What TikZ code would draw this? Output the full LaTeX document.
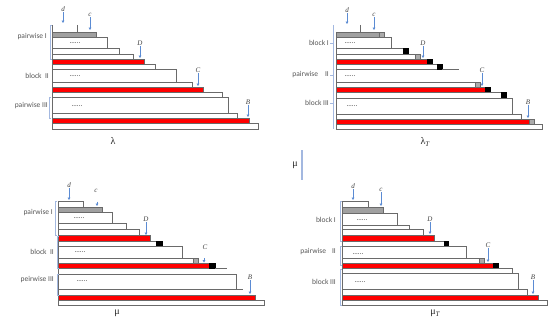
\documentclass[tikz,border=0pt]{standalone}
\usepackage{fontspec}
\setmainfont{Carlito}
\newfontfamily\mathserif{Liberation Serif}
\usetikzlibrary{arrows.meta}
\definecolor{edgegray}{HTML}{6A6A6A}
\definecolor{barred}{HTML}{FF0000}
\definecolor{bargray}{HTML}{A0A0A0}
\definecolor{sqgray}{HTML}{ABABAB}
\definecolor{arrblue}{HTML}{5B8BD3}
\definecolor{brblue}{HTML}{A3B8E0}
\definecolor{labgray}{HTML}{555555}
\tikzset{
  wbar/.style={draw=edgegray, line width=0.6pt, fill=white},
  rbar/.style={draw=edgegray, line width=0.6pt, fill=barred},
  gbar/.style={draw=edgegray, line width=0.6pt, fill=bargray},
  gsq/.style={draw=edgegray, line width=0.5pt, fill=sqgray},
  kbox/.style={draw=black, line width=0.4pt, fill=black},
  edgeline/.style={draw=edgegray, line width=0.6pt},
  arr/.style={draw=arrblue, line width=0.6pt, -{Triangle[length=2.4pt,width=2.6pt]}},
  mlab/.style={font=\mathserif\itshape\fontsize{7}{8}\selectfont, inner sep=0.6pt, text=black!75},
  grp/.style={font=\fontsize{7.5}{8}\selectfont, text=labgray, anchor=east, inner sep=0pt},
  dotlab/.style={font=\fontsize{7}{8}\selectfont, inner sep=0pt, text=black!80},
  brk/.style={draw=brblue, line width=0.8pt},
  ptitle/.style={font=\mathserif\fontsize{10}{11}\selectfont, inner sep=0pt, text=black!85}
}
\newcommand\rowbar[5]{\draw[#5] (#1,#2) rectangle (#3,#4);}
\newcommand\grpbracket[3]{\draw[brk] (#1+2,#2) -- (#1,#2) -- (#1,#3) -- (#1+2,#3);}
\newcommand\marker[6]{% name, label, x, ylabel, ystart, yend
  \node[mlab] (#1) at (#3,#4) {#2};
  \coordinate (#1e) at (#3,#6);
  \draw[arr] (#1) -- (#1e);}
\begin{document}
\begin{tikzpicture}[x=1pt,y=-1pt]
\useasboundingbox (0,0) rectangle (554,329);

% ---------------- Panel 1 : lambda ----------------
\draw[edgeline] (77,25) -- (77,32);
\rowbar{52}{32}{96}{37}{gbar}
\rowbar{52}{37}{107}{48}{wbar}
\rowbar{52}{48}{119}{54}{wbar}
\rowbar{52}{54}{133}{59}{wbar}
\rowbar{52}{59}{144}{64}{rbar}
\rowbar{52}{64}{155}{69}{wbar}
\rowbar{52}{69}{176}{82}{wbar}
\rowbar{52}{82}{192}{87}{wbar}
\rowbar{52}{87}{203}{92}{rbar}
\rowbar{52}{92}{222}{97}{wbar}
\rowbar{52}{97}{228}{113}{wbar}
\rowbar{52}{113}{237}{118}{wbar}
\rowbar{52}{118}{249}{123}{rbar}
\rowbar{52}{123}{258}{129}{wbar}
\draw[edgeline] (52,25) -- (52,129);
\node[dotlab] (p1dA) at (75,43) {......};
\node[dotlab] (p1dB) at (75,76) {......};
\node[dotlab] (p1dC) at (77,106) {......};
\node[grp] (p1g1) at (47,37) {pairwise I};
\node[grp] (p1g2) at (49,76) {block\ \ II};
\node[grp] (p1g3) at (48,106) {pairwise III};
\grpbracket{50}{25}{59}
\grpbracket{49}{97}{118}
\marker{p1d}{d}{63}{9}{13}{23}
\marker{p1c}{c}{90}{15}{18}{30}
\marker{p1D}{D}{140}{43}{47}{58}
\marker{p1C}{C}{198}{70}{73}{86}
\marker{p1B}{B}{248}{102}{105}{117}
\node[ptitle] (p1t) at (113,141) {λ};

% ---------------- Panel 2 : lambda_T ----------------
\draw[edgeline] (360,25) -- (360,32);
\rowbar{336}{32}{379}{37}{gbar}
\rowbar{379}{32}{384}{37}{gsq}
\rowbar{336}{37}{391}{48}{wbar}
\rowbar{336}{48}{403}{54}{wbar}
\rowbar{403}{48}{408}{54}{kbox}
\rowbar{336}{54}{415}{59}{wbar}
\rowbar{415}{54}{420}{59}{gsq}
\rowbar{336}{59}{427}{64}{rbar}
\rowbar{427}{59}{432}{64}{kbox}
\rowbar{336}{64}{437}{69}{wbar}
\rowbar{437}{64}{442}{69}{kbox}
\draw[edgeline] (442,69) -- (459,69);
\rowbar{336}{82}{475}{87}{wbar}
\rowbar{475}{82}{480}{87}{gsq}
\rowbar{336}{87}{485}{92}{rbar}
\rowbar{485}{87}{490}{92}{kbox}
\rowbar{336}{92}{501}{98}{wbar}
\rowbar{501}{92}{506}{98}{kbox}
\rowbar{336}{98}{512}{114}{wbar}
\rowbar{336}{114}{521}{119}{wbar}
\rowbar{336}{119}{529}{124}{rbar}
\rowbar{529}{119}{534}{124}{gsq}
\rowbar{336}{124}{542}{129}{wbar}
\draw[edgeline] (336,32) -- (336,129);
\draw[brk] (333,25) -- (333,129);
\draw[brk] (330,43) -- (333,43);
\draw[brk] (330,75) -- (333,75);
\draw[brk] (330,103) -- (333,103);
\node[dotlab] (p2dA) at (350,43) {......};
\node[dotlab] (p2dB) at (350,76) {......};
\node[dotlab] (p2dC) at (352,106) {......};
\node[grp] (p2g1) at (329,43) {block I};
\node[grp] (p2g2) at (329,75) {pairwise\hspace{7pt}II};
\node[grp] (p2g3) at (329,103) {block III};
\marker{p2d}{d}{347}{10}{17}{24}
\marker{p2c}{c}{374}{15}{18}{30}
\marker{p2D}{D}{423}{43}{47}{58}
\marker{p2C}{C}{482}{70}{73}{86}
\marker{p2B}{B}{528}{102}{105}{118}
\node[ptitle] (p2t) at (425,142) {λ\raisebox{-2pt}{\fontsize{7}{7}\selectfont\itshape T}};

% ---------------- centre mark ----------------
\node[ptitle] (mid) at (295,165) {μ};
\coordinate (midA) at (302,150);
\coordinate (midB) at (302,180);
\draw[draw=brblue, line width=1.5pt] (midA) -- (midB);

% ---------------- Panel 3 : mu ----------------
\rowbar{58}{201}{83}{207}{wbar}
\rowbar{58}{207}{102}{212}{gbar}
\rowbar{58}{212}{112}{223}{wbar}
\rowbar{58}{223}{126}{229}{wbar}
\rowbar{58}{229}{139}{235}{wbar}
\rowbar{58}{235}{150}{241}{rbar}
\rowbar{58}{241}{156}{246}{wbar}
\rowbar{156}{241}{162}{246}{kbox}
\rowbar{58}{246}{182}{258}{wbar}
\rowbar{58}{258}{193}{263}{wbar}
\rowbar{193}{258}{198}{263}{gsq}
\rowbar{58}{263}{209}{268}{rbar}
\rowbar{209}{263}{215}{268}{kbox}
\draw[edgeline] (215,268) -- (227,268);
\rowbar{58}{274}{236}{289}{wbar}
\draw[edgeline] (236,289) -- (243,289);
\rowbar{58}{295}{255}{300}{rbar}
\rowbar{58}{300}{264}{305}{wbar}
\draw[edgeline] (58,201) -- (58,305);
\node[dotlab] (p3dA) at (79,218) {......};
\node[dotlab] (p3dB) at (80,252) {......};
\node[dotlab] (p3dC) at (82,281) {......};
\node[grp] (p3g1) at (53,213) {pairwise I};
\node[grp] (p3g2) at (54,252) {block\ \ II};
\node[grp] (p3g3) at (54,280) {peirwise III};
\grpbracket{55}{201}{235}
\grpbracket{57}{236}{268}
\grpbracket{57}{274}{295}
\marker{p3d}{d}{69}{185}{188}{200}
\node[mlab] (p3c) at (96,191) {c};
\coordinate (p3cs) at (97,201.5);
\coordinate (p3ce) at (97,206);
\draw[arr] (p3cs) -- (p3ce);
\marker{p3D}{D}{146}{219}{223}{235}
\node[mlab] (p3C) at (205,247) {C};
\coordinate (p3Cs) at (204,258);
\coordinate (p3Ce) at (204,262.5);
\draw[arr] (p3Cs) -- (p3Ce);
\marker{p3B}{B}{250}{277}{280}{294}
\node[ptitle] (p3t) at (117,313) {μ};

% ---------------- Panel 4 : mu_T ----------------
\rowbar{342}{201}{368}{207}{wbar}
\rowbar{342}{207}{383}{213}{gbar}
\rowbar{342}{213}{397}{225}{wbar}
\rowbar{342}{225}{409}{229}{wbar}
\rowbar{342}{229}{423}{235}{wbar}
\rowbar{342}{235}{434}{241}{rbar}
\rowbar{342}{241}{444}{246}{wbar}
\rowbar{444}{241}{448}{246}{kbox}
\rowbar{342}{246}{466}{258}{wbar}
\rowbar{342}{258}{479}{263}{wbar}
\rowbar{479}{258}{484}{263}{gsq}
\rowbar{342}{263}{493}{268}{rbar}
\rowbar{493}{263}{498}{268}{kbox}
\rowbar{342}{268}{512}{273}{wbar}
\rowbar{342}{273}{518}{289}{wbar}
\rowbar{342}{289}{527}{295}{wbar}
\rowbar{342}{295}{538}{300}{rbar}
\rowbar{342}{300}{547}{305}{wbar}
\draw[edgeline] (342,201) -- (342,305);
\node[dotlab] (p4dA) at (362,220) {......};
\node[dotlab] (p4dB) at (358,254) {......};
\node[dotlab] (p4dC) at (360,282) {......};
\node[grp] (p4g1) at (336,220) {block I};
\node[grp] (p4g2) at (336,252) {pairwise\hspace{6pt}II};
\node[grp] (p4g3) at (336,282) {block III};
\grpbracket{340}{201}{241}
\grpbracket{340}{246}{265}
\grpbracket{340}{269}{305}
\marker{p4d}{d}{353}{186}{190}{200}
\marker{p4c}{c}{381}{190}{195}{206}
\marker{p4D}{D}{430}{219}{223}{234}
\marker{p4C}{C}{488}{245}{248}{262}
\marker{p4B}{B}{533}{277}{281}{294}
\node[ptitle] (p4t) at (435,313) {μ\raisebox{-2pt}{\fontsize{7}{7}\selectfont\itshape T}};
\end{tikzpicture}
\end{document}
